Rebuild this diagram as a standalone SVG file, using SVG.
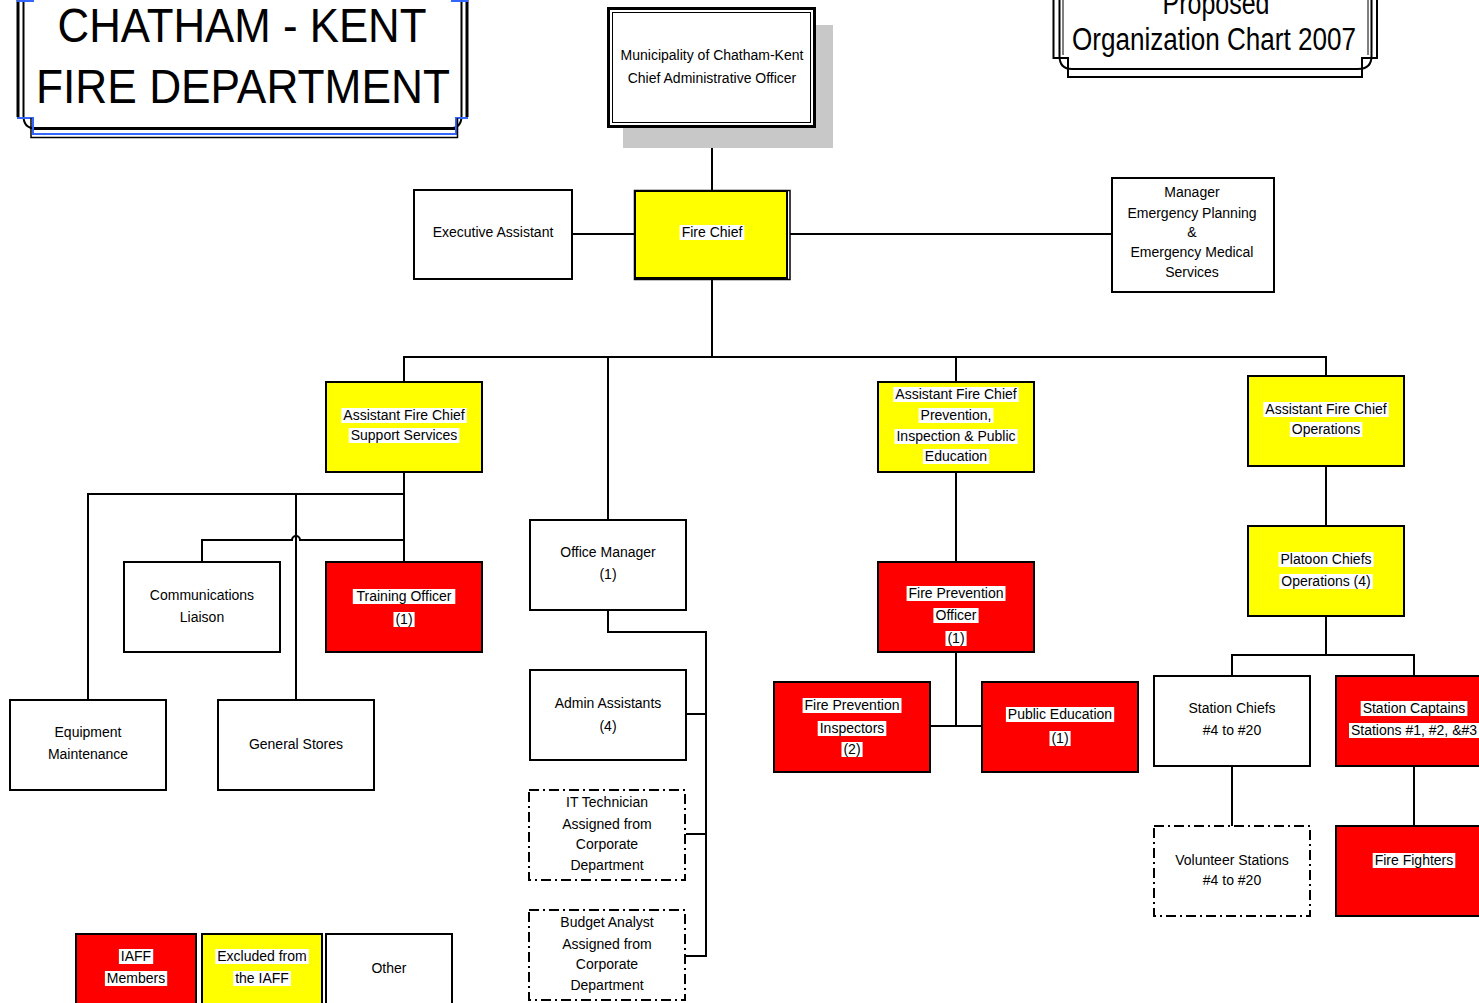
<svg xmlns="http://www.w3.org/2000/svg" width="1479" height="1003" viewBox="0 0 1479 1003">
<style>
.box{fill:#fff;stroke:#000;stroke-width:2}
.y{fill:#ffff00;stroke:#000;stroke-width:2}
.r{fill:#ff0000;stroke:#000;stroke-width:2}
.dash{fill:#fff;stroke:#000;stroke-width:2;stroke-dasharray:10 4 2 4}
.t{font-family:"Liberation Sans",Arial,sans-serif;font-size:14px;text-anchor:middle;fill:#000}
.big{font-family:"Liberation Sans",Arial,sans-serif;text-anchor:middle;fill:#000}
.hl{fill:#fff}
.c{fill:none;stroke:#000;stroke-width:2}
.fr{fill:none;stroke:#000}
.bl{fill:none;stroke:#3366ff;stroke-width:2}
</style>
<rect width="1479" height="1003" fill="#fff"/>

<g id="title">
 <path class="fr" stroke-width="3" d="M18,-5 V117 M467,-5 V117"/>
 <path class="fr" stroke-width="2" d="M23.5,-5 V116 Q23.5,128.5 36,128.5 H449 Q461.5,128.5 461.5,116 V-5"/>
 <path class="fr" stroke-width="3" d="M33,128.5 H455"/>
 <path class="bl" d="M17,118 H33 V134 H456 V118 H468 M17,1 H34 M451,1 H468"/>
 <path class="fr" stroke-width="1.5" d="M31,118 V137.5 H457.5 V118"/>
 <text class="big" x="242" y="42" font-size="48" textLength="369" lengthAdjust="spacingAndGlyphs">CHATHAM - KENT</text>
 <text class="big" x="243" y="103" font-size="48" textLength="414" lengthAdjust="spacingAndGlyphs">FIRE DEPARTMENT</text>
</g>

<g id="subtitle">
 <path class="fr" stroke-width="2" d="M1053.5,-5 V58 H1068 V77 H1362 V58 H1377 V-5"/>
 <path class="fr" stroke-width="2" d="M1059.5,-5 V56 Q1059.5,69 1072,69 H1358 Q1371.5,69 1371.5,56 V-5"/>
 <path class="fr" stroke-width="1" d="M1063,-5 V55 M1368,-5 V55"/>
 <text class="big" x="1216" y="14" font-size="31" textLength="107" lengthAdjust="spacingAndGlyphs">Proposed</text>
 <text class="big" x="1214" y="50" font-size="31" textLength="284" lengthAdjust="spacingAndGlyphs">Organization  Chart 2007</text>
</g>

<g id="connectors">
 <path class="c" d="M712,128 V190"/>
 <path class="c" d="M572,234 H634"/>
 <path class="c" d="M790,234 H1112"/>
 <path class="c" d="M712,280 V357 M404,382 V357 H1326 V376 M608,357 V520 M956,357 V382"/>
 <path class="c" d="M404,472 V562 M88,700 V494 H404 M296,494 V700"/>
 <path class="c" d="M202,562 V540 H292 A4,4 0 0 1 300,540 H404"/>
 <path class="c" d="M608,610 V632 H706 V956 H686 M686,714 H706 M686,834 H706"/>
 <path class="c" d="M956,472 V562 M956,652 V726 M930,726 H982"/>
 <path class="c" d="M1326,466 V526 M1326,616 V655 M1232,676 V655 H1414 V676"/>
 <path class="c" d="M1232,766 V826 M1414,766 V826"/>
</g>

<g id="cao">
 <rect x="623" y="25" width="210" height="123" fill="#c8c8c8"/>
 <rect x="608.5" y="8.5" width="206" height="118" fill="#fff" stroke="#000" stroke-width="3"/>
 <rect x="612.5" y="12.5" width="198" height="110" fill="none" stroke="#000" stroke-width="1"/>
 <text class="t" x="712" y="60">Municipality of Chatham-Kent</text>
 <text class="t" x="712" y="83">Chief Administrative Officer</text>
</g>

<g id="exec-assistant">
 <rect class="box" x="414" y="190" width="158" height="89"/>
 <text class="t" x="493" y="237">Executive Assistant</text>
</g>

<g id="fire-chief">
 <rect class="y" x="635" y="191" width="152" height="87" stroke-width="2.5"/>
 <rect x="634.5" y="190.5" width="155.5" height="89" fill="none" stroke="#000" stroke-width="1.5"/>
 <rect class="hl" x="679.6" y="225" width="64.7" height="15"/>
 <text class="t" x="712" y="237">Fire Chief</text>
</g>

<g id="manager-emergency">
 <rect class="box" x="1112" y="178" width="162" height="114"/>
 <text class="t" x="1192" y="197">Manager</text>
 <text class="t" x="1192" y="218">Emergency Planning</text>
 <text class="t" x="1192" y="237">&amp;</text>
 <text class="t" x="1192" y="257">Emergency Medical</text>
 <text class="t" x="1192" y="277">Services</text>
</g>

<g id="afc-support">
 <rect class="y" x="326" y="382" width="156" height="90"/>
 <rect class="hl" x="341.3" y="408" width="125.4" height="15"/>
 <rect class="hl" x="348.7" y="428" width="110.6" height="15"/>
 <text class="t" x="404" y="420">Assistant Fire Chief</text>
 <text class="t" x="404" y="440">Support Services</text>
</g>

<g id="afc-prevention">
 <rect class="y" x="878" y="382" width="156" height="90"/>
 <rect class="hl" x="893.3" y="387" width="125.4" height="15"/>
 <rect class="hl" x="918.6" y="408" width="74.8" height="15"/>
 <rect class="hl" x="894.5" y="429" width="123.1" height="15"/>
 <rect class="hl" x="922.9" y="449" width="66.3" height="15"/>
 <text class="t" x="956" y="399">Assistant Fire Chief</text>
 <text class="t" x="956" y="420">Prevention,</text>
 <text class="t" x="956" y="441">Inspection &amp; Public</text>
 <text class="t" x="956" y="461">Education</text>
</g>

<g id="afc-operations">
 <rect class="y" x="1248" y="376" width="156" height="90"/>
 <rect class="hl" x="1263.3" y="402" width="125.4" height="15"/>
 <rect class="hl" x="1289.8" y="422" width="72.5" height="15"/>
 <text class="t" x="1326" y="414">Assistant Fire Chief</text>
 <text class="t" x="1326" y="434">Operations</text>
</g>

<g id="platoon-chiefs">
 <rect class="y" x="1248" y="526" width="156" height="90"/>
 <rect class="hl" x="1278.5" y="552" width="95" height="15"/>
 <rect class="hl" x="1279.3" y="574" width="93.5" height="15"/>
 <text class="t" x="1326" y="564">Platoon Chiefs</text>
 <text class="t" x="1326" y="586">Operations (4)</text>
</g>

<g id="communications">
 <rect class="box" x="124" y="562" width="156" height="90"/>
 <text class="t" x="202" y="600">Communications</text>
 <text class="t" x="202" y="622">Liaison</text>
</g>

<g id="training-officer">
 <rect class="r" x="326" y="562" width="156" height="90"/>
 <rect class="hl" x="352.8" y="589" width="102.5" height="15"/>
 <rect class="hl" x="393.5" y="612" width="21.1" height="15"/>
 <text class="t" x="404" y="601">Training Officer</text>
 <text class="t" x="404" y="624">(1)</text>
</g>

<g id="equipment">
 <rect class="box" x="10" y="700" width="156" height="90"/>
 <text class="t" x="88" y="737">Equipment</text>
 <text class="t" x="88" y="759">Maintenance</text>
</g>

<g id="general-stores">
 <rect class="box" x="218" y="700" width="156" height="90"/>
 <text class="t" x="296" y="749">General Stores</text>
</g>

<g id="office-manager">
 <rect class="box" x="530" y="520" width="156" height="90"/>
 <text class="t" x="608" y="557">Office Manager</text>
 <text class="t" x="608" y="579">(1)</text>
</g>

<g id="admin-assistants">
 <rect class="box" x="530" y="670" width="156" height="90"/>
 <text class="t" x="608" y="708">Admin Assistants</text>
 <text class="t" x="608" y="731">(4)</text>
</g>

<g id="it-technician">
 <rect class="dash" x="529" y="790" width="156" height="90"/>
 <text class="t" x="607" y="807">IT Technician</text>
 <text class="t" x="607" y="829">Assigned from</text>
 <text class="t" x="607" y="849">Corporate</text>
 <text class="t" x="607" y="870">Department</text>
</g>

<g id="budget-analyst">
 <rect class="dash" x="529" y="910" width="156" height="90"/>
 <text class="t" x="607" y="927">Budget Analyst</text>
 <text class="t" x="607" y="949">Assigned from</text>
 <text class="t" x="607" y="969">Corporate</text>
 <text class="t" x="607" y="990">Department</text>
</g>

<g id="fp-officer">
 <rect class="r" x="878" y="562" width="156" height="90"/>
 <rect class="hl" x="906.6" y="586" width="98.9" height="15"/>
 <rect class="hl" x="933.4" y="608" width="45.2" height="15"/>
 <rect class="hl" x="945.5" y="631" width="21.1" height="15"/>
 <text class="t" x="956" y="598">Fire Prevention</text>
 <text class="t" x="956" y="620">Officer</text>
 <text class="t" x="956" y="643">(1)</text>
</g>

<g id="fp-inspectors">
 <rect class="r" x="774" y="682" width="156" height="90"/>
 <rect class="hl" x="802.6" y="698" width="98.9" height="15"/>
 <rect class="hl" x="817.7" y="721" width="68.6" height="15"/>
 <rect class="hl" x="841.5" y="742" width="21.1" height="15"/>
 <text class="t" x="852" y="710">Fire Prevention</text>
 <text class="t" x="852" y="733">Inspectors</text>
 <text class="t" x="852" y="754">(2)</text>
</g>

<g id="public-education">
 <rect class="r" x="982" y="682" width="156" height="90"/>
 <rect class="hl" x="1005.9" y="707" width="108.3" height="15"/>
 <rect class="hl" x="1049.5" y="731" width="21.1" height="15"/>
 <text class="t" x="1060" y="719">Public Education</text>
 <text class="t" x="1060" y="743">(1)</text>
</g>

<g id="station-chiefs">
 <rect class="box" x="1154" y="676" width="156" height="90"/>
 <text class="t" x="1232" y="713">Station Chiefs</text>
 <text class="t" x="1232" y="735">#4 to #20</text>
</g>

<g id="station-captains">
 <rect class="r" x="1336" y="676" width="156" height="90"/>
 <rect class="hl" x="1360.7" y="701" width="106.7" height="15"/>
 <rect class="hl" x="1349" y="723" width="130" height="15"/>
 <text class="t" x="1414" y="713">Station Captains</text>
 <text class="t" x="1414" y="735">Stations #1, #2, &amp;#3</text>
</g>

<g id="volunteer-stations">
 <rect class="dash" x="1154" y="826" width="156" height="90"/>
 <text class="t" x="1232" y="865">Volunteer Stations</text>
 <text class="t" x="1232" y="885">#4 to #20</text>
</g>

<g id="fire-fighters">
 <rect class="r" x="1336" y="826" width="156" height="90"/>
 <rect class="hl" x="1372.7" y="853" width="82.6" height="15"/>
 <text class="t" x="1414" y="865">Fire Fighters</text>
</g>

<g id="legend-iaff">
 <rect class="r" x="76" y="934" width="120" height="80"/>
 <rect class="hl" x="118.9" y="949" width="34.3" height="15"/>
 <rect class="hl" x="104.9" y="971" width="62.3" height="15"/>
 <text class="t" x="136" y="961">IAFF</text>
 <text class="t" x="136" y="983">Members</text>
</g>

<g id="legend-excluded">
 <rect class="y" x="202" y="934" width="120" height="80"/>
 <rect class="hl" x="215.3" y="949" width="93.5" height="15"/>
 <rect class="hl" x="233.2" y="971" width="57.7" height="15"/>
 <text class="t" x="262" y="961">Excluded from</text>
 <text class="t" x="262" y="983">the IAFF</text>
</g>

<g id="legend-other">
 <rect class="box" x="326" y="934" width="126" height="80"/>
 <text class="t" x="389" y="973">Other</text>
</g>
</svg>
